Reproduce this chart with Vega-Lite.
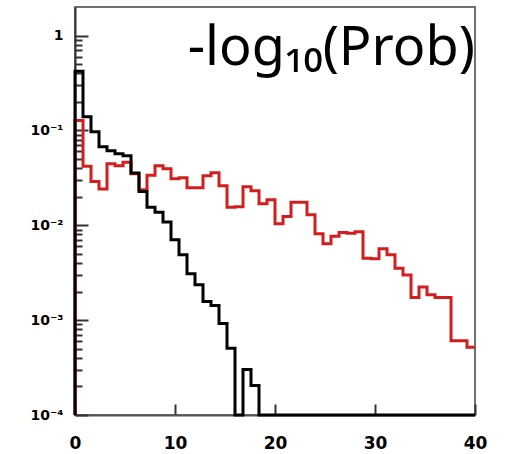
{
  "$schema": "https://vega.github.io/schema/vega-lite/v6.json",
  "autosize": {"type": "none"},
  "width": 400,
  "height": 408,
  "padding": {"left": 75, "top": 7, "right": 32, "bottom": 39},
  "background": "#ffffff",
  "config": {"view": {"stroke": "#707070", "strokeWidth": 2}},
  "title": {
    "text": "-log₁₀(Prob)",
    "anchor": "end",
    "orient": "top",
    "offset": -61,
    "dy": 51,
    "baseline": "alphabetic",
    "font": "Noto Sans",
    "fontSize": 54,
    "fontWeight": "normal",
    "color": "#000000",
    "dx": -12
  },
  "datasets": {
    "red": [
      {"i": 0, "x": 0, "p": 0.0001},
      {"i": 1, "x": 0, "p": 0.1276},
      {"i": 2, "x": 0.8, "p": 0.0418},
      {"i": 3, "x": 1.6, "p": 0.029},
      {"i": 4, "x": 2.4, "p": 0.0241},
      {"i": 5, "x": 3.2, "p": 0.0446},
      {"i": 6, "x": 4.0, "p": 0.0425},
      {"i": 7, "x": 4.8, "p": 0.0462},
      {"i": 8, "x": 5.6, "p": 0.035},
      {"i": 9, "x": 6.4, "p": 0.0237},
      {"i": 10, "x": 7.2, "p": 0.0337},
      {"i": 11, "x": 8.0, "p": 0.0425},
      {"i": 12, "x": 8.8, "p": 0.0395},
      {"i": 13, "x": 9.6, "p": 0.031},
      {"i": 14, "x": 10.4, "p": 0.0317},
      {"i": 15, "x": 11.2, "p": 0.0249},
      {"i": 16, "x": 12.0, "p": 0.0249},
      {"i": 17, "x": 12.8, "p": 0.0333},
      {"i": 18, "x": 13.6, "p": 0.0358},
      {"i": 19, "x": 14.4, "p": 0.0261},
      {"i": 20, "x": 15.2, "p": 0.0155},
      {"i": 21, "x": 16.0, "p": 0.0157},
      {"i": 22, "x": 16.8, "p": 0.0255},
      {"i": 23, "x": 17.6, "p": 0.0231},
      {"i": 24, "x": 18.4, "p": 0.0169},
      {"i": 25, "x": 19.2, "p": 0.0186},
      {"i": 26, "x": 20.0, "p": 0.0104},
      {"i": 27, "x": 20.8, "p": 0.0124},
      {"i": 28, "x": 21.6, "p": 0.0175},
      {"i": 29, "x": 22.4, "p": 0.0175},
      {"i": 30, "x": 23.2, "p": 0.0129},
      {"i": 31, "x": 24.0, "p": 0.00813},
      {"i": 32, "x": 24.8, "p": 0.00638},
      {"i": 33, "x": 25.6, "p": 0.00766},
      {"i": 34, "x": 26.4, "p": 0.00839},
      {"i": 35, "x": 27.2, "p": 0.00824},
      {"i": 36, "x": 28.0, "p": 0.00854},
      {"i": 37, "x": 28.8, "p": 0.00449},
      {"i": 38, "x": 29.6, "p": 0.00443},
      {"i": 39, "x": 30.4, "p": 0.00565},
      {"i": 40, "x": 31.2, "p": 0.00489},
      {"i": 41, "x": 32.0, "p": 0.00353},
      {"i": 42, "x": 32.8, "p": 0.003},
      {"i": 43, "x": 33.6, "p": 0.00173},
      {"i": 44, "x": 34.4, "p": 0.00223},
      {"i": 45, "x": 35.2, "p": 0.00185},
      {"i": 46, "x": 36.0, "p": 0.00173},
      {"i": 47, "x": 36.8, "p": 0.00173},
      {"i": 48, "x": 37.6, "p": 0.000608},
      {"i": 49, "x": 38.4, "p": 0.000608},
      {"i": 50, "x": 39.2, "p": 0.000518},
      {"i": 51, "x": 40.0, "p": 0.000518}
    ],
    "black": [
      {"i": 0, "x": 0, "p": 0.0001},
      {"i": 1, "x": 0, "p": 0.42},
      {"i": 2, "x": 0.8, "p": 0.1396},
      {"i": 3, "x": 1.6, "p": 0.097},
      {"i": 4, "x": 2.4, "p": 0.0674},
      {"i": 5, "x": 3.2, "p": 0.0611},
      {"i": 6, "x": 4.0, "p": 0.0568},
      {"i": 7, "x": 4.8, "p": 0.0541},
      {"i": 8, "x": 5.6, "p": 0.0356},
      {"i": 9, "x": 6.4, "p": 0.0227},
      {"i": 10, "x": 7.2, "p": 0.0155},
      {"i": 11, "x": 8.0, "p": 0.0137},
      {"i": 12, "x": 8.8, "p": 0.0108},
      {"i": 13, "x": 9.6, "p": 0.00703},
      {"i": 14, "x": 10.4, "p": 0.00489},
      {"i": 15, "x": 11.2, "p": 0.00308},
      {"i": 16, "x": 12.0, "p": 0.00236},
      {"i": 17, "x": 12.8, "p": 0.00157},
      {"i": 18, "x": 13.6, "p": 0.00143},
      {"i": 19, "x": 14.4, "p": 0.000924},
      {"i": 20, "x": 15.2, "p": 0.000506},
      {"i": 21, "x": 16.0, "p": 0.0001},
      {"i": 22, "x": 16.8, "p": 0.000302},
      {"i": 23, "x": 17.6, "p": 0.000205},
      {"i": 24, "x": 18.4, "p": 0.0001},
      {"i": 25, "x": 40.0, "p": 0.0001}
    ]
  },
  "layer": [
    {
      "data": {"name": "red"},
      "mark": {"type": "line", "interpolate": "step-after", "color": "#d21e1e", "strokeWidth": 3, "strokeJoin": "miter", "strokeCap": "butt"},
      "encoding": {
        "x": {
          "field": "x", "type": "quantitative",
          "scale": {"domain": [0, 40], "nice": false, "zero": false},
          "axis": {
            "title": null, "values": [0, 10, 20, 30, 40], "format": "d",
            "grid": false, "tickSize": -11, "tickWidth": 2, "tickColor": "#333333",
            "domainColor": "#555555", "domainWidth": 2,
            "labelFont": "DejaVu Sans", "labelFontWeight": "bold", "labelFontSize": 17, "labelColor": "#000000",
            "labelPadding": 31, "labelFlush": false, "labelBaseline": "top"
          }
        },
        "y": {
          "field": "p", "type": "quantitative",
          "scale": {"type": "log", "domain": [0.0001, 2], "nice": false},
          "axis": {
            "title": null, "grid": false,
            "values": [0.0001, 0.0002, 0.0003, 0.0004, 0.0005, 0.0006, 0.0007, 0.0008, 0.0009, 0.001, 0.002, 0.003, 0.004, 0.005, 0.006, 0.007, 0.008, 0.009, 0.01, 0.02, 0.03, 0.04, 0.05, 0.06, 0.07, 0.08, 0.09, 0.1, 0.2, 0.3, 0.4, 0.5, 0.6, 0.7, 0.8, 0.9, 1],
            "labelExpr": "datum.value == 1 ? '1' : datum.value == 0.1 ? '10⁻¹' : datum.value == 0.01 ? '10⁻²' : datum.value == 0.001 ? '10⁻³' : datum.value == 0.0001 ? '10⁻⁴' : ''",
            "tickSize": {"condition": {"test": "indexof([1, 0.1, 0.01, 0.001, 0.0001], datum.value) >= 0", "value": -13}, "value": -7},
            "tickWidth": 2, "tickColor": "#333333",
            "domainColor": "#333333", "domainWidth": 2,
            "labelFont": "DejaVu Sans", "labelFontWeight": "bold", "labelFontSize": 14, "labelColor": "#000000",
            "labelPadding": 25, "labelOverlap": false, "labelFlush": false
          }
        },
        "order": {"field": "i", "type": "quantitative"}
      }
    },
    {
      "data": {"name": "black"},
      "mark": {"type": "line", "interpolate": "step-after", "color": "#000000", "strokeWidth": 3, "strokeJoin": "miter", "strokeCap": "butt"},
      "encoding": {
        "x": {"field": "x", "type": "quantitative"},
        "y": {"field": "p", "type": "quantitative"},
        "order": {"field": "i", "type": "quantitative"}
      }
    }
  ]
}
